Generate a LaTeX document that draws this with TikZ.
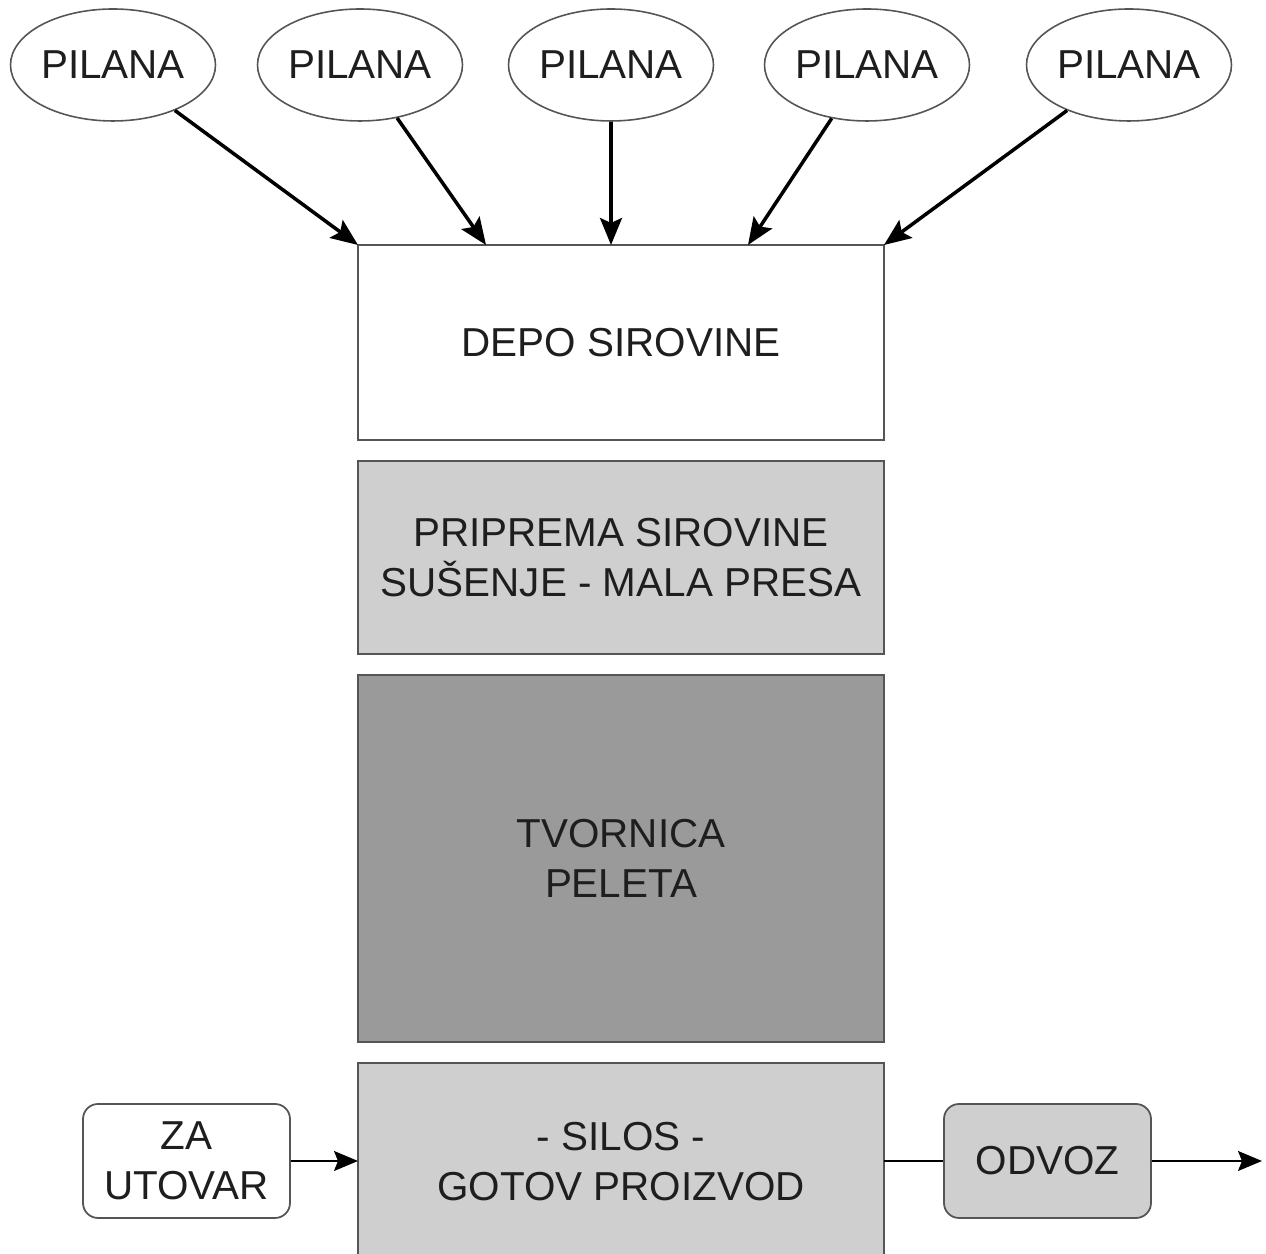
\documentclass[tikz,border=0pt]{standalone}
\usepackage{fontspec}
\setmainfont{Liberation Sans}
\usetikzlibrary{shapes.geometric, arrows.meta, positioning, calc}
\definecolor{lightgrey}{RGB}{207, 207, 207}
\definecolor{darkgrey}{RGB}{154, 154, 154}
\definecolor{edgegrey}{RGB}{85, 85, 85}
\definecolor{textgrey}{RGB}{30, 30, 30}

\tikzset{
  pilana/.style={draw=edgegrey, line width=0.45pt, ellipse, minimum width=2.05cm, minimum height=1.12cm, inner sep=0pt},
  stage/.style={draw=edgegrey, line width=0.6pt, minimum width=5.26cm, inner sep=0pt, outer sep=0pt, align=center, anchor=north west},
  endbox/.style={draw=edgegrey, line width=0.5pt, rounded corners=0.15cm, minimum width=2.07cm, minimum height=1.14cm, inner sep=0pt, align=center},
  feed/.style={-{Stealth[length=0.27cm, width=0.22cm, inset=0.05cm]}, line width=1pt, black},
  flow/.style={line width=0.45pt, black},
}

\begin{document}
\begin{tikzpicture}[font=\fontsize{11.5}{14.2}\selectfont\color{textgrey}]
    \useasboundingbox (0,0) rectangle (12.66,-12.54);

    % --- Pilane (dobavljaci) ---
    \node[pilana] (p1) at (1.13,-0.65) {PILANA};
    \node[pilana] (p2) at (3.60,-0.65) {PILANA};
    \node[pilana] (p3) at (6.11,-0.65) {PILANA};
    \node[pilana] (p4) at (8.67,-0.65) {PILANA};
    \node[pilana] (p5) at (11.29,-0.65) {PILANA};

    % --- Proizvodni lanac ---
    \node[stage, fill=white, minimum height=1.95cm] (depo) at (3.58,-2.45) {DEPO SIROVINE};
    \node[stage, fill=lightgrey, minimum height=1.93cm] (priprema) at (3.58,-4.61) {PRIPREMA SIROVINE\\SUŠENJE - MALA PRESA};
    \node[stage, fill=darkgrey, minimum height=3.67cm] (tvornica) at (3.58,-6.75) {TVORNICA\\PELETA};
    \node[stage, fill=lightgrey, minimum height=1.98cm] (silos) at (3.58,-10.63) {- SILOS -\\GOTOV PROIZVOD};

    % --- Utovar i odvoz ---
    \node[endbox, fill=white] (utovar) at (1.865,-11.61) {ZA\\UTOVAR};
    \node[endbox, fill=lightgrey] (odvoz) at (10.475,-11.61) {ODVOZ};
    \coordinate (izlaz) at (12.62,-11.61);

    % --- Strelice ---
    \draw[feed] (p1) -- (depo.north west);
    \draw[feed] (p2) -- ($(depo.north west)+(1.28,0)$);
    \draw[feed] (p3) -- ($(depo.north west)+(2.53,0)$);
    \draw[feed] (p4) -- ($(depo.north west)+(3.90,0)$);
    \draw[feed] (p5) -- (depo.north east);

    \draw[flow, -{Stealth[length=0.24cm, width=0.2cm, inset=0.04cm]}] (utovar) -- (utovar -| silos.west);
    \draw[flow] (silos.east |- odvoz) -- (odvoz);
    \draw[flow, -{Stealth[length=0.24cm, width=0.2cm, inset=0.04cm]}] (odvoz) -- (izlaz);
\end{tikzpicture}
\end{document}
